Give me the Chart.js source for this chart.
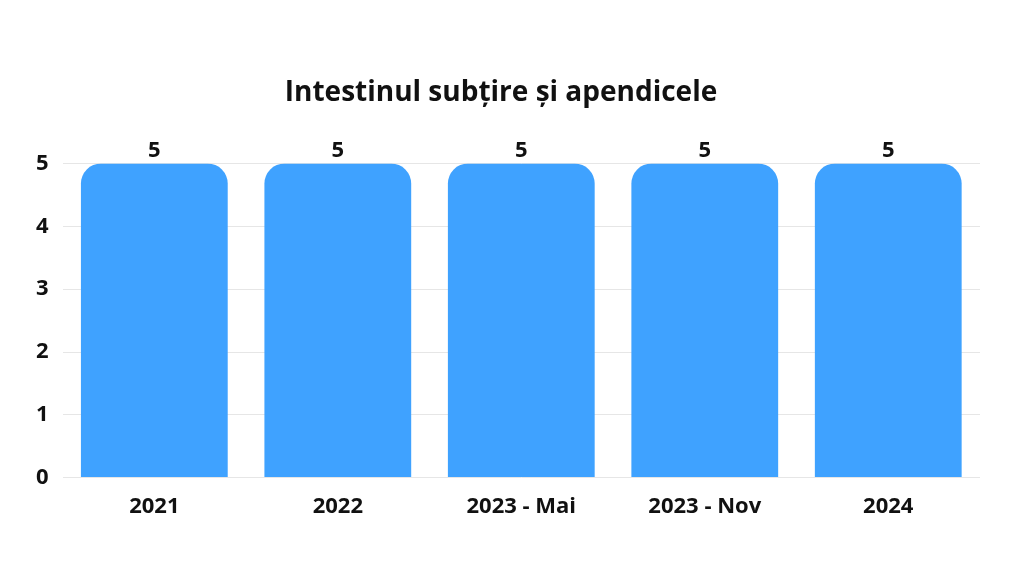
<!DOCTYPE html>
<html>
<head>
<meta charset="utf-8">
<script src="https://cdn.jsdelivr.net/npm/chart.js@4"></script>
<style>
  body { margin: 0; background: #fff; }
  #wrap { width: 1024px; height: 576px; }
</style>
</head>
<body>
<div id="wrap"><canvas id="myChart" width="1024" height="576"></canvas></div>
<script>
const categories = ['2021', '2022', '2023 - Mai', '2023 - Nov', '2024'];
const values = [5, 5, 5, 5, 5];
const yTicks = [0, 1, 2, 3, 4, 5];

const FONT = '"Open Sans", Lato, sans-serif';

// value labels above bars
const barLabels = {
    id: 'barLabels',
    afterDatasetsDraw(chart) {
        const ctx = chart.ctx;
        const meta = chart.getDatasetMeta(0);
        ctx.save();
        ctx.font = 'bold 22px ' + FONT;
        ctx.fillStyle = '#111';
        ctx.textAlign = 'center';
        ctx.textBaseline = 'bottom';
        meta.data.forEach((bar, i) => {
            ctx.fillText(values[i], bar.x, bar.y - 2);
        });
        ctx.restore();
    }
};

new Chart(document.getElementById('myChart').getContext('2d'), {
    type: 'bar',
    data: {
        labels: categories,
        datasets: [{
            data: values,
            backgroundColor: '#3FA2FF',
            borderRadius: { topLeft: 20, topRight: 20, bottomLeft: 0, bottomRight: 0 },
            borderSkipped: 'bottom',
            barPercentage: 0.8,
            categoryPercentage: 1.0
        }]
    },
    options: {
        responsive: false,
        animation: false,
        layout: { padding: { left: 22, right: 44, bottom: 48 } },
        scales: {
            y: {
                min: 0, max: 5,
                afterBuildTicks: axis => { axis.ticks = yTicks.map(v => ({ value: v })); },
                grid: { color: '#e6e6e6', drawTicks: false },
                border: { display: false },
                ticks: { color: '#111', padding: 14, font: { family: FONT, size: 22, weight: 'bold' } }
            },
            x: {
                grid: { display: false },
                border: { display: false },
                ticks: { color: '#111', padding: 8, font: { family: FONT, size: 22, weight: 'bold' } }
            }
        },
        plugins: {
            legend: { display: false },
            tooltip: { enabled: false },
            title: {
                display: true,
                text: 'Intestinul subțire și apendicele',
                color: '#111',
                font: { family: FONT, size: 28, weight: 'bold' },
                padding: { top: 76, bottom: 54 }
            }
        }
    },
    plugins: [barLabels]
});
</script>
</body>
</html>
